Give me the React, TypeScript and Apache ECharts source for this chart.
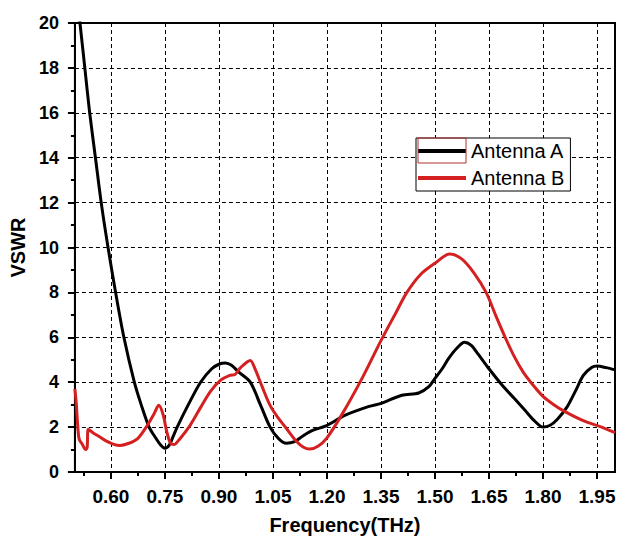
import React, { useEffect, useRef } from "react";
import * as echarts from "echarts";

// Frequency sweep (THz) and VSWR for each antenna
const freqA = [
  0.505, 0.514, 0.5275, 0.541, 0.557, 0.573, 0.592, 0.613, 0.636, 0.665, 0.684, 0.706, 0.723,
  0.738, 0.75, 0.762, 0.772, 0.784, 0.815, 0.849, 0.88, 0.9, 0.918, 0.935, 0.955, 0.987, 1.015,
  1.042, 1.065, 1.087, 1.11, 1.133, 1.16, 1.199, 1.251, 1.317, 1.35, 1.408, 1.455, 1.483, 1.5,
  1.52, 1.538, 1.56, 1.582, 1.6, 1.62, 1.65, 1.685, 1.72, 1.75, 1.775, 1.8, 1.82, 1.84, 1.867,
  1.89, 1.912, 1.935, 1.95, 1.975, 2.0,
];
const vswrA = [
  21.3, 20.0, 18.0, 16.0, 14.0, 12.0, 10.0, 8.0, 6.0, 4.0, 3.0, 2.0, 1.55,
  1.2, 1.06, 1.2, 1.55, 2.0, 3.0, 4.0, 4.6, 4.8, 4.85, 4.75, 4.45, 4.0, 3.0,
  2.0, 1.5, 1.28, 1.35, 1.6, 1.85, 2.07, 2.53, 2.92, 3.06, 3.42, 3.52, 3.8, 4.17,
  4.6, 5.06, 5.5, 5.78, 5.65, 5.25, 4.6, 3.9, 3.28, 2.75, 2.3, 2.0, 2.08, 2.35, 2.9,
  3.6, 4.3, 4.65, 4.72, 4.65, 4.55,
];

const freqB = [
  0.5, 0.504, 0.508, 0.512, 0.52, 0.53, 0.534, 0.537, 0.55, 0.565, 0.585, 0.61, 0.625, 0.65,
  0.675, 0.7, 0.72, 0.733, 0.745, 0.755, 0.765, 0.775, 0.79, 0.82, 0.85, 0.877, 0.904, 0.93,
  0.945, 0.96, 0.987, 1.0, 1.02, 1.042, 1.065, 1.087, 1.115, 1.135, 1.152, 1.175, 1.199, 1.243,
  1.3, 1.35, 1.39, 1.422, 1.46, 1.5, 1.541, 1.575, 1.609, 1.642, 1.668, 1.695, 1.72, 1.745,
  1.771, 1.8, 1.83, 1.86, 1.91, 1.963, 2.0,
];
const vswrB = [
  3.7, 3.0, 2.0, 1.45, 1.25, 1.0, 1.1, 1.9, 1.75, 1.6, 1.4, 1.22, 1.18, 1.28,
  1.5, 2.05, 2.6, 2.97, 2.55, 1.8, 1.3, 1.22, 1.45, 2.08, 2.9, 3.6, 4.08, 4.3,
  4.35, 4.65, 4.97, 4.6, 3.8, 2.97, 2.4, 1.95, 1.37, 1.1, 1.02, 1.15, 1.5, 2.6,
  4.25, 5.85, 7.05, 8.0, 8.8, 9.3, 9.71, 9.48, 8.85, 8.0, 7.0, 6.0, 5.15, 4.45,
  3.9, 3.37, 3.0, 2.7, 2.3, 2.0, 1.75,
];

// Axis ticks
const xMajorTicks = [0.6, 0.75, 0.9, 1.05, 1.2, 1.35, 1.5, 1.65, 1.8, 1.95];
const xMinorTicks = [0.525, 0.675, 0.825, 0.975, 1.125, 1.275, 1.425, 1.575, 1.725, 1.875];
const seriesNames = ["Antenna A", "Antenna B"];
const seriesColors = ["#000000", "#d42020"];

const FONT = 'Arial, "Liberation Sans", sans-serif';

const zip = (xs: number[], ys: number[]) => xs.map((x, i) => [x, ys[i]]);

export default function App() {
  const ref = useRef<HTMLDivElement>(null);

  useEffect(() => {
    if (!ref.current) return;
    const chart = echarts.init(ref.current, null, { renderer: "svg" });
    const grid = { left: 70, right: 5, top: 23, bottom: 66 };
    chart.setOption({
      animation: false,
      backgroundColor: "#ffffff",
      grid: {
        ...grid,
        show: true,
        borderColor: "#000",
        borderWidth: 2,
        backgroundColor: "transparent",
      },
      legend: {
        orient: "vertical",
        left: 416,
        top: 138,
        data: seriesNames.map((n) => ({ name: n, icon: "rect" })),
        itemWidth: 48,
        itemHeight: 4,
        itemGap: 7,
        padding: [3, 6, 3, 2],
        borderColor: "#000",
        borderWidth: 1,
        backgroundColor: "#ffffff",
        textStyle: { fontFamily: FONT, fontSize: 20, color: "#000", padding: [0, 0, 0, 0] },
        selectedMode: false,
      },
      graphic: [
        {
          type: "rect",
          z: 100,
          shape: { x: 418, y: 138, width: 48, height: 25 },
          style: { fill: "none", stroke: "#b03030", lineWidth: 1 },
        },
      ],
      xAxis: [
        {
          type: "value",
          position: "bottom",
          min: 0.5,
          max: 2.0,
          name: "Frequency(THz)",
          nameLocation: "middle",
          nameGap: 43,
          nameTextStyle: { fontFamily: FONT, fontSize: 20, fontWeight: "bold", color: "#000" },
          axisLine: { show: true, lineStyle: { color: "#000", width: 2 } },
          axisTick: { show: true, inside: false, length: 7, customValues: xMajorTicks, lineStyle: { color: "#000", width: 2 } },
          axisLabel: {
            customValues: xMajorTicks,
            formatter: (v: number) => v.toFixed(2),
            margin: 15,
            fontFamily: FONT,
            fontSize: 19,
            fontWeight: "bold",
            color: "#000",
          },
          splitLine: { show: true, lineStyle: { color: "#000", width: 1, type: [4, 3] } },
        },
        {
          type: "value",
          position: "bottom",
          min: 0.5,
          max: 2.0,
          axisLine: { show: false },
          axisTick: { show: true, inside: false, length: 4, customValues: xMinorTicks, lineStyle: { color: "#000", width: 2 } },
          axisLabel: { show: false },
          splitLine: { show: false },
        },
      ],
      yAxis: {
        type: "value",
        min: 0,
        max: 20,
        interval: 2,
        name: "VSWR",
        nameLocation: "middle",
        nameGap: 46,
        nameRotate: 90,
        nameTextStyle: { fontFamily: FONT, fontSize: 20, fontWeight: "bold", color: "#000" },
        axisLine: { show: true, lineStyle: { color: "#000", width: 2 } },
        axisTick: { show: true, inside: false, length: 7, lineStyle: { color: "#000", width: 2 } },
        minorTick: { show: true, splitNumber: 2, length: 4, lineStyle: { color: "#000", width: 2 } },
        axisLabel: { margin: 16, fontFamily: FONT, fontSize: 18, fontWeight: "bold", color: "#000" },
        splitLine: { show: true, lineStyle: { color: "#000", width: 1, type: [4, 3] } },
      },
      series: [
        {
          name: seriesNames[0],
          type: "line",
          xAxisIndex: 0,
          data: zip(freqA, vswrA),
          smooth: 0.3,
          showSymbol: false,
          symbol: "none",
          clip: true,
          color: seriesColors[0],
          lineStyle: { color: seriesColors[0], width: 3 },
          z: 3,
        },
        {
          name: seriesNames[1],
          type: "line",
          xAxisIndex: 0,
          data: zip(freqB, vswrB),
          smooth: 0.3,
          showSymbol: false,
          symbol: "none",
          clip: true,
          color: seriesColors[1],
          lineStyle: { color: seriesColors[1], width: 3 },
          z: 4,
        },
      ],
    });
    return () => chart.dispose();
  }, []);

  return (
    <div
      ref={ref}
      style={{ position: "fixed", left: 0, top: 0, width: 620, height: 540, background: "#fff" }}
    />
  );
}
